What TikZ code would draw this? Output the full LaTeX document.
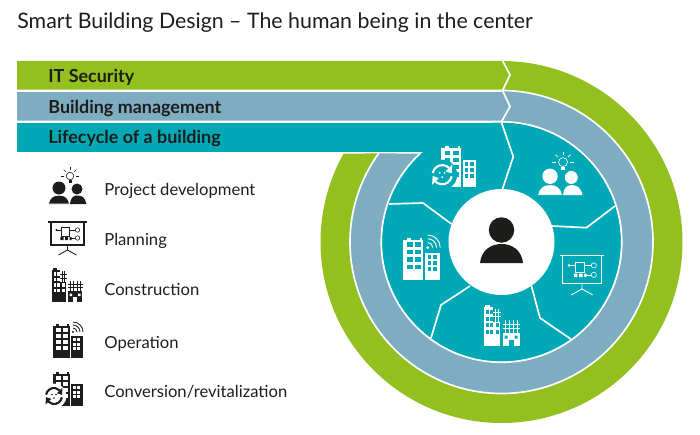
\documentclass[tikz,border=0pt]{standalone}
\usepackage{fontspec}
\setmainfont{Lato}
\usepackage{xcolor}
\usepackage{tikz}
\usetikzlibrary{arrows,calc}
\definecolor{secgreen}{HTML}{93C01F}
\definecolor{mgmtblue}{HTML}{7EADC2}
\definecolor{cycleteal}{HTML}{00A9B5}
\definecolor{inkblack}{HTML}{1D1D1B}
\newcommand{\towerblock}[2]{%
    \fill[#1] (-15,-16) rectangle (1.5,16);
    \fill[#1] (-12,16) rectangle (-8.5,18);
    \fill[#1] (-1,16) rectangle (0.5,18);
    \foreach \wx in {-12,-5}{\foreach \wy in {10.5,4.5,-1.5,-7.5}{
        \fill[#2] (\wx,\wy) rectangle +(4.8,3.6);}}
}
\newcommand{\annexblock}[2]{%
    \fill[#1] (3,-16) rectangle (14.5,6);
    \foreach \wx in {4.8,9.4}{\foreach \wy in {1.2,-3.6,-8.4}{
        \fill[#2] (\wx,\wy) rectangle +(3,3);}}
}
\tikzset{
    bandlabel/.style={anchor=base west, inner sep=0pt, text=inkblack, font=\fontsize{10.2}{12}\selectfont\bfseries},
    legendlabel/.style={anchor=base west, inner sep=0pt, text=inkblack, font=\fontsize{9.45}{11}\selectfont},
    gapline/.style={draw=white, line width=0.95pt},
    pics/peopleicon/.style 2 args={code={
        \begin{scope}[scale=0.02]
            \fill[#1] (10,-2.5) circle (5.5);
            \fill[#1] (3,-17.5) .. controls (4,-10) and (7,-9) .. (10.5,-9) .. controls (15,-9) and (18,-11) .. (19.5,-17.5) -- cycle;
            \fill[#1] (-8,-1.5) circle (6.5);
            \filldraw[fill=#1, draw=#2, line width=0.4pt] (-18.5,-17.5) .. controls (-17,-10) and (-13,-8.7) .. (-8,-8.7) .. controls (-3,-8.7) and (1,-10) .. (2.5,-17.5) -- cycle;
            % bulb
            \draw[#1, line width=0.35pt] (3,10.5) circle (3.8);
            \fill[#1] (1.5,3.5) rectangle (4.5,6.3);
            \foreach \ang in {0,45,90,135,180}{
                \draw[#1, line width=0.35pt] (3,10.5)+(\ang:6) -- +(\ang:9);}
        \end{scope}
    }},
    pics/planicon/.style 2 args={code={
        \begin{scope}[scale=0.02]
            \draw[#1, line width=0.6pt] (-19,17) -- (19,17);
            \draw[#1, line width=0.6pt] (-16.5,17) -- (-16.5,-6) -- (16.5,-6) -- (16.5,17);
            \draw[#1, line width=0.5pt] (0,-6) -- (0,-11) -- (-9,-16) (0,-11) -- (9,-16);
            \fill[#1] (-11,9) circle (1.2);
            \draw[#1, line width=0.35pt] (-11,9) -- (-6,9) (-6,3) rectangle (2,12) (2,9) -- (7.5,9) (2,1) -- (7.5,1);
            \draw[#1, line width=0.35pt] (10,9) circle (2.2) (10,1) circle (2.2);
            \fill[#1] (-7,-1) rectangle (-4,2) (-2.5,-1) rectangle (0.5,2) (2,-1) rectangle (4,2);
        \end{scope}
    }},
    pics/constructicon/.style 2 args={code={
        \begin{scope}[scale=0.02]
            % tower with scaffold
            \fill[#1] (-15,-16) rectangle (-7,16);
            \fill[#1] (-13.5,16) rectangle (-9.5,18);
            \fill[#1] (-7,-16) rectangle (-1,4);
            \foreach \wx in {-13,-9.5}{\foreach \wy in {10.5,5,-0.5,-6}{
                \fill[#2] (\wx,\wy) rectangle +(2.4,3.2);}}
            \foreach \wy in {-0.5,-6}{\fill[#2] (-5,\wy) rectangle +(2.6,3.2);}
            \foreach \sx in {-5,-2.5}{\draw[#1, line width=0.5pt] (\sx,15) -- (\sx,4);}
            \foreach \sy in {12,8}{\draw[#1, line width=0.5pt] (-7,\sy) -- (-0.5,\sy);}
            % annex with scaffold
            \fill[#1] (1,-16) rectangle (15,-5);
            \fill[#2] (6,-16) rectangle (10,-11);
            \fill[#2] (2.5,-10) rectangle +(2.5,2.5) (11,-10) rectangle +(2.5,2.5);
            \foreach \sx in {3,6.5,10,13.5}{\draw[#1, line width=0.5pt] (\sx,-5) -- (\sx,5.5);}
            \foreach \sy in {2,-1.5}{\draw[#1, line width=0.5pt] (1,\sy) -- (15.5,\sy);}
        \end{scope}
    }},
    pics/operationicon/.style 2 args={code={
        \begin{scope}[scale=0.02]
            \towerblock{#1}{#2}
            \annexblock{#1}{#2}
            \fill[#1] (5,10) circle (1.2);
            \foreach \rad in {4,7,10}{
                \draw[#1, line width=0.5pt] (5,10)+(0:\rad) arc[start angle=0, end angle=90, radius=\rad];}
        \end{scope}
    }},
    pics/conversionicon/.style 2 args={code={
        \begin{scope}[scale=0.02]
            \towerblock{#1}{#2}
            \annexblock{#1}{#2}
            \begin{scope}[shift={(-14,-6)}]
                \fill[#2] (0,0) circle (12.5);
                \foreach \rot in {0,180}{
                    \begin{scope}[rotate=\rot]
                        \draw[#1, line width=1.2pt] (170:8) arc[start angle=170, end angle=45, radius=8];
                        \fill[#1] (45:12) -- (45:4) -- (8:8) -- cycle;
                    \end{scope}
                }
                \foreach \dx/\dy in {-2/1.5,2/1.5,0/-2}{\fill[#1] (\dx,\dy) circle (0.8);}
            \end{scope}
        \end{scope}
    }},
}
\begin{document}
\begin{tikzpicture}
    \useasboundingbox (0,0) rectangle (14,8.68);

    \node[anchor=base west, inner sep=0pt, text=inkblack, font=\fontsize{12.15}{14}\selectfont] (title) at (0.34,8.12) {Smart Building Design -- The human being in the center};

    % Rings and centre disc
    \begin{scope}[shift={(10.03,3.84)}]
        \fill[secgreen] (90:3.62) arc[start angle=90, end angle=-209.27, radius=3.62]
            -- (-215.75:3.03) arc[start angle=-215.75, end angle=90, radius=3.03] -- cycle;
        \fill[mgmtblue] (90:3.03) arc[start angle=90, end angle=-215.75, radius=3.03]
            -- (-227.78:2.39) arc[start angle=-227.78, end angle=90, radius=2.39] -- cycle;
        \fill[cycleteal] (0,0) circle (2.39);
        \draw[gapline] (90:3.03) arc[start angle=90, end angle=-215.75, radius=3.03];
        \draw[gapline] (90:2.405) arc[start angle=90, end angle=-227.4, radius=2.405];
    \end{scope}

    % Bands
    \fill[secgreen] (0.34,7.46) -- (10.054,7.46) -- (10.2,7.18) -- (10.05,6.886) -- (0.34,6.886) -- cycle;
    \fill[mgmtblue] (0.34,6.84) -- (10.05,6.84) -- (10.2,6.55) -- (10.03,6.266) -- (0.34,6.266) -- cycle;
    \fill[cycleteal] (0.34,6.214) rectangle (10.03,5.644);
    \draw[gapline] (10.054,7.46) -- (10.2,7.18) -- (10.05,6.87) -- (10.2,6.55) -- (10.03,6.246);

    \node[bandlabel] (itsecurity) at (0.96,7.03) {IT Security};
    \node[bandlabel] (management) at (0.96,6.41) {Building management};
    \node[bandlabel] (lifecycle) at (0.96,5.81) {Lifecycle of a building};

    % Sector lines and person
    \begin{scope}[shift={(10.03,3.84)}]
        \draw[gapline] (0,2.39) -- (0.236,1.706) -- (0,1.0);
        \draw[gapline] (1.0,0.32) -- (1.70,0.286) -- (2.27,0.72);
        \draw[gapline] (0.6,-0.88) -- (0.77,-1.52) -- (1.384,-1.94);
        \draw[gapline] (-0.63,-0.88) -- (-1.21,-1.26) -- (-1.41,-1.92);
        \draw[gapline] (-1.0,0.36) -- (-1.57,0.78) -- (-2.25,0.76);
        \fill[white] (0,0) circle (1.06);
        \fill[inkblack] (0,0.24) circle (0.255);
        \fill[inkblack] (-0.43,-0.42) .. controls (-0.40,-0.15) and (-0.2,-0.04) .. (0,-0.04)
            .. controls (0.2,-0.04) and (0.40,-0.15) .. (0.43,-0.42) -- cycle;
    \end{scope}

    % Icons on the disc
    \pic[scale=1.2] at (9.18,5.33) {conversionicon={white}{cycleteal}};
    \pic[scale=1.18] at (11.19,5.19) {peopleicon={white}{cycleteal}};
    \pic[scale=1.18] at (11.64,3.16) {planicon={white}{cycleteal}};
    \pic[scale=1.2] at (10.03,2.15) {constructicon={white}{cycleteal}};
    \pic[scale=1.25] at (8.43,3.48) {operationicon={white}{cycleteal}};

    % Legend
    \pic at (1.34,4.95) {peopleicon={inkblack}{white}};
    \pic at (1.35,3.90) {planicon={inkblack}{white}};
    \pic at (1.34,2.96) {constructicon={inkblack}{white}};
    \pic at (1.36,1.84) {operationicon={inkblack}{white}};
    \pic at (1.36,0.88) {conversionicon={inkblack}{white}};

    \node[legendlabel] (projectdev) at (2.08,4.78) {Project development};
    \node[legendlabel] (planning) at (2.08,3.78) {Planning};
    \node[legendlabel] (construction) at (2.08,2.77) {Construction};
    \node[legendlabel] (operation) at (2.08,1.72) {Operation};
    \node[legendlabel] (conversion) at (2.08,0.74) {Conversion/revitalization};
\end{tikzpicture}
\end{document}
